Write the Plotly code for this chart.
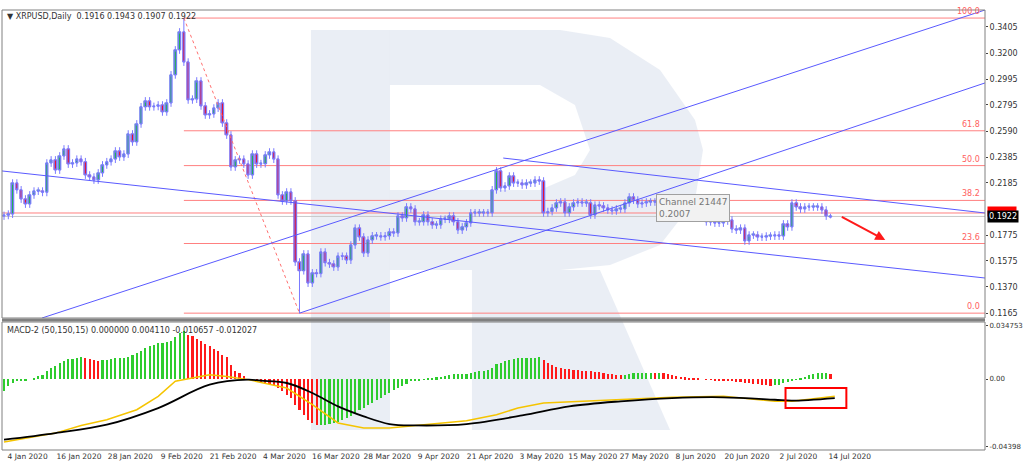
import pandas as pd
import plotly.graph_objects as go

# ---- price data (daily XRPUSD closes) ----
closes = [
    0.193, 0.194, 0.2183, 0.213, 0.2058, 0.2019, 0.209, 0.212, 0.212, 0.211,
    0.234, 0.2364, 0.2285, 0.2395, 0.245, 0.2332, 0.234, 0.237, 0.235, 0.2246,
    0.223, 0.2207, 0.2262, 0.2325, 0.235, 0.237, 0.2434, 0.2387, 0.241, 0.2567,
    0.2505, 0.2646, 0.278, 0.2826, 0.278, 0.2783, 0.2794, 0.274, 0.281, 0.303,
    0.3225, 0.3366, 0.313, 0.2834, 0.2840, 0.2982, 0.2787, 0.2716, 0.2724, 0.277,
    0.281, 0.2653, 0.2559, 0.2309, 0.2364, 0.2370, 0.2332, 0.2246, 0.241, 0.2332,
    0.2335, 0.2403, 0.2426, 0.237, 0.209, 0.2043, 0.2113, 0.2043, 0.1565,
    # from 13 Mar
    0.1497, 0.1628, 0.140, 0.148, 0.1475, 0.1643, 0.156, 0.1549, 0.1526, 0.161,
    0.161, 0.158, 0.1698, 0.183, 0.1761, 0.1635, 0.1737, 0.177, 0.177, 0.1762,
    0.177, 0.1800, 0.1792, 0.1925, 0.191, 0.1996, 0.198, 0.188, 0.188, 0.1933,
    0.188, 0.1855, 0.1855, 0.190, 0.190, 0.1925, 0.188, 0.1815, 0.184, 0.1871,
    0.195, 0.195, 0.195, 0.195, 0.195, 0.213, 0.2278, 0.2145, 0.216, 0.2238,
    0.2183, 0.2183, 0.2168, 0.2183, 0.2183, 0.2207, 0.2199, 0.195, 0.1960, 0.1988,
    0.2027, 0.2035, 0.195, 0.1996, 0.2027, 0.2035, 0.2027, 0.2027, 0.1933, 0.201,
    0.2004, 0.1988, 0.1972, 0.1965, 0.1980, 0.1980,
    # from 28 May
    0.2027, 0.2074, 0.2050, 0.2019, 0.2027, 0.2035, 0.2035, 0.2035, 0.2027, 0.2027,
    0.2019, 0.2027, 0.194, 0.1933, 0.1917, 0.1917, 0.1917, 0.1925, 0.1917, 0.188,
    0.188, 0.187, 0.187, 0.1886, 0.1894, 0.1823, 0.1815, 0.183, 0.173, 0.1776,
    0.1776, 0.176, 0.176, 0.1768, 0.1768, 0.1776, 0.1768, 0.1863, 0.184, 0.2027,
    0.1996, 0.198, 0.1996, 0.1996, 0.1996, 0.1996, 0.1972, 0.1925, 0.1922,
]
first_open = 0.1925
wick = 0.003
swing_high = ("2020-02-15", 0.3475)
swing_low = ("2020-03-13", 0.1165)

# MACD-2 histogram, in thousandths, daily from 4 Jan
macd_hist = [
    -7.6, -4.8, -2.6, -1.5, -1.1, -0.7, 0.0, 0.7, 1.7, 2.8, 5.0, 7.2, 8.2, 10.4,
    11.9, 12.8, 13.2, 13.7, 14.1, 13.7, 12.8, 12.2, 11.9, 12.4, 12.6, 12.8, 13.5,
    13.5, 13.9, 14.3, 15.8, 16.9, 18.4, 20.2, 21.3, 22.4, 23.2, 23.7, 24.1, 25.0,
    27.1, 29.9, 31.5, 28.9, 27.8, 26.3, 25.0, 23.0, 21.3, 19.5, 18.0, 15.8, 14.1,
    9.3, 5.4, 3.9, 1.7, 0.0, -0.4, -1.5, -2.2, -3.0, -3.3, -3.7, -5.9, -8.0, -10.2,
    -12.4, -16.7, -20.0, -23.2, -26.5, -28.6, -30.2, -30.2, -29.7, -29.3, -28.6,
    -28.0, -26.5, -25.4, -23.9, -22.1, -20.4, -18.9, -17.1, -15.6, -13.9, -12.4,
    -10.6, -9.1, -6.9, -5.9, -4.8, -3.0, -1.5, -1.1, -0.7, -0.2, 0.4, 0.7, 1.1,
    1.5, 2.2, 2.8, 3.0, 3.0, 3.0, 3.3, 3.9, 4.6, 5.0, 5.4, 6.1, 7.2, 9.8,
    10.4, 11.5, 12.4, 13.0, 13.5, 13.7, 13.7, 13.7, 13.7, 14.1, 12.6, 10.4, 8.9,
    7.8, 7.2, 6.7, 6.5, 6.1, 5.9, 5.4, 5.2, 5.0, 4.6, 4.3, 3.9, 3.5, 3.3, 2.8,
    2.6, 2.8, 3.3, 3.7, 3.9, 4.1, 4.1, 4.1, 3.9, 3.9, 3.7, 3.3, 2.8, 2.0, 1.5,
    1.1, 0.7, 0.4, 0.2, 0.0, -0.2, -0.4, -0.7, -0.9, -1.1, -1.3, -1.5, -1.7,
    -2.0, -2.4, -2.6, -3.0, -3.5, -3.7, -4.1, -4.3, -4.1, -3.7, -2.8, -2.0,
    -1.1, -0.2, 0.7, 1.5, 2.4, 3.3, 3.7, 3.7, 3.7, 3.3,
]
macd_dates = ["2020-01-04", "2020-01-16", "2020-01-28", "2020-02-09", "2020-02-21",
              "2020-03-01", "2020-03-04", "2020-03-10", "2020-03-16", "2020-03-22",
              "2020-03-28", "2020-04-03", "2020-04-09", "2020-04-21", "2020-05-04",
              "2020-05-15", "2020-05-27", "2020-06-08", "2020-06-20", "2020-07-02",
              "2020-07-06", "2020-07-16"]
macd_line = [-39.5, -35.2, -29.7, -18.9, -3.7, -0.4, -1.1, -2.6, -9.1, -17.8,
             -24.3, -29.3, -30.2, -29.3, -23.7, -17.8, -14.5, -12.4, -11.9,
             -13.5, -14.1, -12.4]
signal_dates = ["2020-01-04", "2020-01-16", "2020-01-22", "2020-01-28", "2020-02-04",
                "2020-02-09", "2020-02-13", "2020-02-21", "2020-02-25", "2020-03-01",
                "2020-03-10", "2020-03-16", "2020-03-22", "2020-03-28", "2020-04-03",
                "2020-04-09", "2020-04-21", "2020-04-28", "2020-05-03", "2020-05-09",
                "2020-05-20", "2020-06-08", "2020-06-20", "2020-07-02", "2020-07-06",
                "2020-07-16"]
signal_line = [-41.0, -35.2, -30.2, -26.5, -20.0, -11.3, -1.5, 2.8, 1.7, -0.4,
               -5.9, -16.7, -28.6, -31.9, -31.9, -30.2, -27.1, -23.2, -18.9,
               -15.6, -14.1, -11.9, -11.3, -14.5, -14.5, -11.3]

price_ticks = [0.3405, 0.3200, 0.2995, 0.2795, 0.2590, 0.2385, 0.2185,
               0.1775, 0.1575, 0.1370, 0.1165]
date_ticks = ["2020-01-04", "2020-01-16", "2020-01-28", "2020-02-09", "2020-02-21",
              "2020-03-04", "2020-03-16", "2020-03-28", "2020-04-09", "2020-04-21",
              "2020-05-03", "2020-05-15", "2020-05-27", "2020-06-08", "2020-06-20",
              "2020-07-02", "2020-07-14"]
fib_levels = [0.0, 23.6, 38.2, 50.0, 61.8, 100.0]

# ---- build OHLC ----
dates = pd.date_range("2020-01-04", periods=len(closes), freq="D")
opens = [first_open] + closes[:-1]
highs = [max(o, c) + wick for o, c in zip(opens, closes)]
lows = [min(o, c) - wick for o, c in zip(opens, closes)]
df = pd.DataFrame(dict(open=opens, high=highs, low=lows, close=closes), index=dates)
df.loc[swing_high[0], "high"] = swing_high[1]
df.loc[swing_low[0], "low"] = swing_low[1]
df.iloc[-1] = [0.1916, 0.1943, 0.1907, 0.1922]

hdates = pd.date_range("2020-01-04", periods=len(macd_hist), freq="D")
hcolors = ["#2ecc2e"] + ["#2ecc2e" if b >= a else "#ff1a1a"
                         for a, b in zip(macd_hist[:-1], macd_hist[1:])]

fig = go.Figure()
# wicks (blue), bodies drawn on top as bars
fig.add_trace(go.Candlestick(
    x=df.index, open=df.open, high=df.high, low=df.low, close=df.close,
    increasing=dict(line=dict(color="#7a7aff", width=1), fillcolor="rgba(0,0,0,0)"),
    decreasing=dict(line=dict(color="#7a7aff", width=1), fillcolor="rgba(0,0,0,0)"),
    whiskerwidth=0, xaxis="x", yaxis="y", showlegend=False, hoverinfo="skip",
))
body_lo = df[["open", "close"]].min(axis=1)
body_h = (df.close - df.open).abs().clip(lower=0.0006)
body_col = ["#22b24c" if c >= o else "#e8102e" for o, c in zip(df.open, df.close)]
fig.add_trace(go.Bar(
    x=df.index, y=body_h, base=body_lo, marker_color=body_col,
    marker_line=dict(color="#5a5aff", width=0.5), width=0.6 * 86400000,
    xaxis="x", yaxis="y",
))
fig.add_trace(go.Bar(
    x=hdates, y=[v / 1000 for v in macd_hist], marker_color=hcolors,
    marker_line_width=0, width=0.5 * 86400000, xaxis="x2", yaxis="y2",
))
fig.add_trace(go.Scatter(x=signal_dates, y=[v / 1000 for v in signal_line], mode="lines",
                         line=dict(color="#f5c400", width=1.5), xaxis="x2", yaxis="y2"))
fig.add_trace(go.Scatter(x=macd_dates, y=[v / 1000 for v in macd_line], mode="lines",
                         line=dict(color="black", width=1.8, shape="spline"),
                         xaxis="x2", yaxis="y2"))

# ---- geometry helpers (pixel layout of the terminal window) ----
L, R, T, B = 2, 985, 10, 450
def px(x, y):
    return (x - L) / (R - L), (B - y) / (B - T)

x_range = ["2020-01-03 12:40", "2020-08-20 02:00"]
shapes = []

# faint "R" watermark
def path(points):
    s = ""
    for i, (x, y) in enumerate(points):
        a, b = px(x, y)
        s += ("M" if i == 0 else "L") + f"{a:.4f},{b:.4f} "
    return s + "Z"

wm = "rgba(214,222,236,0.5)"
shapes.append(dict(type="path", xref="paper", yref="paper", layer="below", line_width=0,
                   fillcolor=wm, path=path([(311, 30), (390, 30), (390, 430), (311, 430)])))
bowl = [(390, 30), (560, 30), (610, 38), (660, 70), (695, 120), (703, 150), (695, 200),
        (660, 245), (610, 265), (560, 270), (390, 270), (390, 190), (540, 190),
        (575, 175), (590, 150), (575, 105), (540, 85), (390, 85)]
shapes.append(dict(type="path", xref="paper", yref="paper", layer="below", line_width=0,
                   fillcolor=wm, path=path(bowl)))
shapes.append(dict(type="path", xref="paper", yref="paper", layer="below", line_width=0,
                   fillcolor=wm, path=path([(472, 270), (600, 270), (670, 430), (472, 430)])))

# fibonacci retracement
lo, hi = swing_low[1], swing_high[1]
for lv in fib_levels:
    y = lo + (hi - lo) * lv / 100
    shapes.append(dict(type="line", xref="x", yref="y", x0=swing_high[0], x1=x_range[1],
                       y0=y, y1=y, line=dict(color="#ff8080", width=1), layer="below"))
shapes.append(dict(type="line", xref="x", yref="y", x0=swing_high[0], y0=hi,
                   x1=swing_low[0], y1=lo, line=dict(color="#ff7070", width=1, dash="dot")))
# price lines
shapes.append(dict(type="line", xref="paper", yref="y", x0=0, x1=1, y0=0.1949, y1=0.1949,
                   line=dict(color="#ff8080", width=1), layer="below"))
shapes.append(dict(type="line", xref="paper", yref="y", x0=0, x1=1, y0=0.1922, y1=0.1922,
                   line=dict(color="#c8c8c8", width=1), layer="below"))
# trend channels
blue = dict(color="#5a5aff", width=1)
for x0, y0, x1, y1 in [
    (x_range[0], 0.2278, x_range[1], 0.1440),
    ("2020-04-29 14:00", 0.2379, x_range[1], 0.1949),
    ("2020-03-13", 0.1165, x_range[1], 0.2967),
    ("2020-01-12 21:00", 0.1127, x_range[1], 0.3538),
]:
    shapes.append(dict(type="line", xref="x", yref="y", x0=x0, y0=y0, x1=x1, y1=y1, line=blue))
# red box on MACD
shapes.append(dict(type="rect", xref="x2", yref="y2", x0="2020-07-04 12:00",
                   x1="2020-07-18 17:00", y0=-0.0059, y1=-0.0189,
                   line=dict(color="#ff0000", width=2)))
# panel frames
for y0, y1 in [(318, 10), (450, 322)]:
    a0, b0 = px(L, y0)
    a1, b1 = px(R, y1)
    shapes.append(dict(type="rect", xref="paper", yref="paper", x0=a0, x1=a1, y0=b0, y1=b1,
                       line=dict(color="#808080", width=1)))
shapes.append(dict(type="line", xref="paper", yref="paper", x0=0, x1=1,
                   y0=px(0, 320)[1], y1=px(0, 320)[1], line=dict(color="#808080", width=3)))

ann = []
for lv in fib_levels:
    y = lo + (hi - lo) * lv / 100
    ann.append(dict(x=px(982, 0)[0], xref="paper", y=y, yref="y", text=f"{lv:.1f}",
                    showarrow=False, xanchor="right", yanchor="bottom",
                    font=dict(size=8, color="#ff6060")))
ann.append(dict(x=0.003, y=1.0, xref="paper", yref="paper", xanchor="left", yanchor="top",
                text="▼ XRPUSD,Daily  0.1916 0.1943 0.1907 0.1922", showarrow=False,
                font=dict(size=8, color="#333")))
ann.append(dict(x=0.003, y=px(0, 324)[1], xref="paper", yref="paper", xanchor="left",
                yanchor="top", showarrow=False, font=dict(size=8, color="#333"),
                text="MACD-2 (50,150,15) 0.000000 0.004110 -0.010657 -0.012027"))
ann.append(dict(x="2020-06-13", y=0.1985, xref="x", yref="y", showarrow=False,
                text="Channel 21447<br>0.2007", align="left", bgcolor="#f2f2f2",
                bordercolor="#a0a0a0", borderwidth=1, borderpad=2,
                font=dict(size=9, color="#777")))
ann.append(dict(x="2020-07-27 19:00", y=0.1737, ax="2020-07-17 07:00", ay=0.1925,
                xref="x", yref="y", axref="x", ayref="y", showarrow=True, arrowhead=2,
                arrowsize=1, arrowwidth=2, arrowcolor="#ff1a1a", text=""))
ann.append(dict(x=px(987, 0)[0], xref="paper", y=0.1962, yref="y", text="0.1980",
                showarrow=False, xanchor="left", bgcolor="#ff0000",
                font=dict(size=8, color="#ff0000"), borderpad=0))
ann.append(dict(x=px(987, 0)[0], xref="paper", y=0.1922, yref="y", text="0.1922",
                showarrow=False, xanchor="left", bgcolor="black",
                font=dict(size=8, color="white"), borderpad=1))

label_shift = pd.Timedelta(days=5.5)
tick_text = [pd.Timestamp(d).strftime("%-d %b %Y") for d in date_ticks]

fig.update_layout(
    width=1024, height=462, margin=dict(l=L, r=1024 - R, t=T, b=462 - B),
    paper_bgcolor="white", plot_bgcolor="white", showlegend=False, bargap=0,
    barmode="overlay",
    shapes=shapes, annotations=ann, font=dict(family="DejaVu Sans", size=8, color="#333"),
    xaxis=dict(domain=[0, 1], anchor="y", range=x_range, showticklabels=False,
               showgrid=False, rangeslider=dict(visible=False), matches="x2"),
    yaxis=dict(domain=[px(0, 318)[1], 1], side="right", range=[0.1127, 0.3538],
               tickvals=price_ticks, tickformat=".4f", showgrid=False, ticks="outside",
               ticklen=2, tickfont=dict(size=8)),
    xaxis2=dict(domain=[0, 1], anchor="y2", range=x_range, showgrid=False,
                tickvals=[pd.Timestamp(d) + label_shift for d in date_ticks],
                ticktext=tick_text, tickfont=dict(size=7.5), ticks="", tickangle=0),
    yaxis2=dict(domain=[0, px(0, 322)[1]], side="right", range=[-0.0462, 0.0371],
                tickvals=[0.034753, 0.0, -0.04398],
                ticktext=["0.034753", "0.00", "-0.04398"], showgrid=False,
                zeroline=False, ticks="outside", ticklen=2, tickfont=dict(size=7)),
)

fig.write_html("out.html", config={"displayModeBar": False},
               post_script="document.body.style.margin='0';")
